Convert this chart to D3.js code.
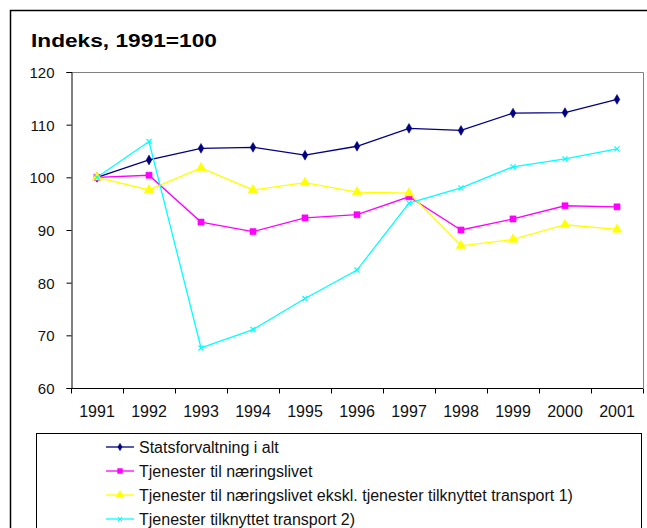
<!DOCTYPE html>
<html>
<head>
<meta charset="utf-8">
<script src="https://cdn.jsdelivr.net/npm/d3@7"></script>
<style>
  html, body { margin: 0; padding: 0; background: #fff; }
  svg { display: block; font-family: Arial, "Liberation Sans", sans-serif; }
</style>
</head>
<body>
<svg id="chart" width="647" height="528"></svg>
<script>
const years = ["1991","1992","1993","1994","1995","1996","1997","1998","1999","2000","2001"];
const yTicks = [60, 70, 80, 90, 100, 110, 120];
const title = "Indeks, 1991=100";

const statsforvaltning = [100.0, 103.3, 105.5, 105.7, 104.2, 105.9, 109.3, 108.9, 112.2, 112.3, 114.8];
const naeringslivet    = [100.0, 100.4, 91.5, 89.7, 92.3, 92.9, 96.3, 90.0, 92.1, 94.6, 94.4];
const eksklTransport   = [100.0, 97.6, 101.8, 97.6, 99.0, 97.2, 97.0, 87.0, 88.2, 91.0, 90.1];
const transport        = [100.0, 106.8, 67.6, 71.1, 77.0, 82.4, 95.1, 98.0, 102.0, 103.5, 105.4];

const seriesNames = [
  "Statsforvaltning i alt",
  "Tjenester til næringslivet",
  "Tjenester til næringslivet ekskl. tjenester tilknyttet transport 1)",
  "Tjenester tilknyttet transport 2)"
];

const series = [
  { name: seriesNames[0], values: statsforvaltning, color: "#000080", symbol: d3.symbolDiamond, size: 28, legendSize: 16, fill: true },
  { name: seriesNames[1], values: naeringslivet,    color: "#FF00FF", symbol: d3.symbolSquare,  size: 38, legendSize: 24, fill: true },
  { name: seriesNames[2], values: eksklTransport,   color: "#FFFF00", symbol: d3.symbolTriangle, size: 40, legendSize: 26, fill: true },
  { name: seriesNames[3], values: transport,        color: "#00FFFF", symbol: d3.symbolTimes,   size: 18, legendSize: 12, fill: false }
];

const svg = d3.select("#chart");

// outer frame
svg.append("rect")
  .attr("x", 10.5).attr("y", 10.5)
  .attr("width", 660).attr("height", 560)
  .attr("fill", "none").attr("stroke", "#000").attr("stroke-width", 1.5);

// title (horizontally stretched like the reference rendering)
const titleEl = svg.append("text")
  .attr("x", 0).attr("y", 0)
  .attr("font-size", 18).attr("font-weight", "bold")
  .attr("fill", "#000")
  .text(title);
const tLen = titleEl.node().getComputedTextLength() || 148;
titleEl.attr("transform", `translate(31,47) scale(${186 / tLen},1)`);

const x = d3.scaleBand().domain(years).range([71, 643]).padding(0);
const y = d3.scaleLinear().domain([60, 120]).range([388, 72]);

// plot border (top & right gray)
svg.append("path")
  .attr("d", `M${x.range()[0]},${y(120)+0.5}H${x.range()[1]+0.5}V${y(60)}`)
  .attr("fill", "none").attr("stroke", "#808080").attr("stroke-width", 1);

// y axis
const yAxis = d3.axisLeft(y).tickValues(yTicks).tickSize(5).tickPadding(12).tickFormat(d3.format("d"));
const gy = svg.append("g").attr("transform", `translate(${x.range()[0]+0.5},0)`).call(yAxis);
gy.select(".domain").attr("stroke", "#000");
gy.selectAll(".tick line").attr("stroke", "#000");
gy.selectAll(".tick text").attr("font-size", 15).attr("fill", "#111").attr("font-family", "Arial, 'Liberation Sans', sans-serif").attr("dy", "0.36em");

// x axis
const xAxis = d3.axisBottom(x).tickSize(0).tickPadding(0);
const gx = svg.append("g").attr("transform", `translate(0,${y(60)+0.5})`).call(xAxis);
gx.select(".domain").attr("stroke", "#000").attr("d", `M${x.range()[0]},0H${x.range()[1]}`);
gx.selectAll(".tick text").attr("font-size", 16).attr("fill", "#111")
  .attr("font-family", "Arial, 'Liberation Sans', sans-serif")
  .attr("y", 28).attr("dy", 0);
// boundary ticks
const boundaries = years.map(d => x(d)).concat([x.range()[1]]);
gx.selectAll("line.bt").data(boundaries).enter().append("line")
  .attr("class", "bt")
  .attr("x1", d => Math.round(d) + 0.5).attr("x2", d => Math.round(d) + 0.5)
  .attr("y1", 0).attr("y2", 5)
  .attr("stroke", "#000");

// lines and markers
const cx = d => x(d) + x.bandwidth() / 2;
const line = d3.line().x((v, i) => cx(years[i])).y(v => y(v));

series.forEach(s => {
  svg.append("path")
    .attr("d", line(s.values))
    .attr("fill", "none")
    .attr("stroke", s.color)
    .attr("stroke-width", 1.3);
});
series.forEach(s => {
  const sym = d3.symbol().type(s.symbol).size(s.size);
  svg.append("g").selectAll("path").data(s.values).enter().append("path")
    .attr("transform", (v, i) => `translate(${cx(years[i])},${y(v)})`)
    .attr("d", sym)
    .attr("fill", s.fill ? s.color : "none")
    .attr("stroke", s.color)
    .attr("stroke-width", s.fill ? 0.5 : 1.2);
});

// legend
svg.append("rect")
  .attr("x", 36.5).attr("y", 433.5)
  .attr("width", 605).attr("height", 120)
  .attr("fill", "#fff").attr("stroke", "#000").attr("stroke-width", 1);

const lg = svg.append("g");
series.forEach((s, i) => {
  const cy = 447 + i * 24;
  lg.append("line")
    .attr("x1", 106).attr("x2", 134)
    .attr("y1", cy).attr("y2", cy)
    .attr("stroke", s.color).attr("stroke-width", 1.3);
  lg.append("path")
    .attr("transform", `translate(120,${cy})`)
    .attr("d", d3.symbol().type(s.symbol).size(s.legendSize))
    .attr("fill", s.fill ? s.color : "none")
    .attr("stroke", s.color).attr("stroke-width", s.fill ? 0.5 : 1);
  lg.append("text")
    .attr("x", 139).attr("y", cy)
    .attr("dy", "0.36em")
    .attr("font-size", 16).attr("fill", "#111")
    .text(s.name);
});
</script>
</body>
</html>
